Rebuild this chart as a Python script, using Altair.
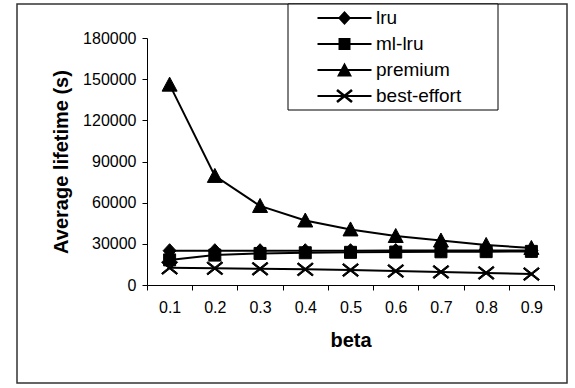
import math
import altair as alt
import pandas as pd

# ---- data ----
beta = ["0.1", "0.2", "0.3", "0.4", "0.5", "0.6", "0.7", "0.8", "0.9"]
series = ["lru", "ml-lru", "premium", "best-effort"]
lru = [25000, 25000, 25000, 25000, 25000, 25100, 25100, 25100, 25200]
ml_lru = [18300, 21800, 23000, 23500, 23800, 24000, 24200, 24300, 24500]
premium = [146000, 79500, 57600, 47000, 40500, 35700, 32400, 29200, 27000]
best_effort = [12500, 12200, 11800, 11400, 10900, 10200, 9500, 8800, 8000]
y_ticks = [0, 30000, 60000, 90000, 120000, 150000, 180000]

values = {"lru": lru, "ml-lru": ml_lru, "premium": premium, "best-effort": best_effort}
df = pd.DataFrame(
    [{"beta": b, "series": s, "value": v} for s in series for b, v in zip(beta, values[s])]
)

FONT = "Liberation Sans"


# ---- marker shapes (pixel units), all as filled polygons ----
def quad(a, b, t):
    dx, dy = b[0] - a[0], b[1] - a[1]
    ln = math.hypot(dx, dy)
    nx, ny = -dy / ln * t / 2, dx / ln * t / 2
    return [(a[0] + nx, a[1] + ny), (b[0] + nx, b[1] + ny), (b[0] - nx, b[1] - ny), (a[0] - nx, a[1] - ny)]


def cross(t):
    return [quad((-7.5, -6), (7.5, 6), t), quad((-7.5, 6), (7.5, -6), t)]


def marker(s, t):
    if s == "lru":
        return [[(0, -7), (6.5, 0), (0, 7), (-6.5, 0)]]
    if s == "ml-lru":
        return [[(-6, -6), (6, -6), (6, 6), (-6, 6)]]
    if s == "premium":
        return [[(0, -7.5), (7.5, 6.5), (-7.5, 6.5)]]
    return cross(t)


def orient(poly):
    area = sum(poly[i][0] * poly[(i + 1) % len(poly)][1] - poly[(i + 1) % len(poly)][0] * poly[i][1]
               for i in range(len(poly)))
    return poly if area > 0 else list(reversed(poly))


def to_path(polys, unit):
    out = ""
    for poly in polys:
        poly = orient(poly)
        out += "M" + "L".join(f"{x / unit:.4f},{y / unit:.4f}" for x, y in poly) + "Z"
    return out


R_MARK = 7.0  # size 196
R_LEG = 55.5  # size 111^2
LINE_HALF = 27.0
legend_line = [(-LINE_HALF, -1), (LINE_HALF, -1), (LINE_HALF, 1), (-LINE_HALF, 1)]
chart_paths = [to_path(marker(s, 1.6), R_MARK) for s in series]
legend_paths = [to_path([legend_line] + marker(s, 2.6), R_LEG) for s in series]

x_enc = alt.X(
    "beta:O",
    scale=alt.Scale(type="band", domain=beta, paddingInner=0, paddingOuter=0),
    axis=alt.Axis(
        title="beta",
        tickBand="extent",
        labelAngle=0,
        labelFontSize=16,
        labelPadding=9,
        tickSize=5,
        titleFontSize=20,
        titleFontWeight="bold",
        titlePadding=15,
        grid=False,
    ),
)
y_enc = alt.Y(
    "value:Q",
    scale=alt.Scale(domain=[0, 180000], nice=False),
    axis=alt.Axis(
        title="Average lifetime (s)",
        values=y_ticks,
        format="d",
        labelFontSize=16,
        labelPadding=6,
        tickSize=5,
        titleFontSize=20,
        titleFontWeight="bold",
        titlePadding=11,
        grid=False,
    ),
)

one = pd.DataFrame({"k": [0]})
frame = alt.Chart(one).mark_rect(fill="transparent", stroke="#333333", strokeWidth=1.5).encode(
    x=alt.value(-130), x2=alt.value(420), y=alt.value(-34), y2=alt.value(345)
)
legend_box = alt.Chart(one).mark_rect(fill="white", stroke="black", strokeWidth=1).encode(
    x=alt.value(141), x2=alt.value(351), y=alt.value(-34), y2=alt.value(72)
)

lines = alt.Chart(df).mark_line(color="black", strokeWidth=2).encode(
    x=x_enc, y=y_enc, detail="series:N"
)
points = alt.Chart(df).mark_point(
    filled=True, color="black", opacity=1, size=196, stroke="black", strokeWidth=1
).encode(
    x=x_enc,
    y=y_enc,
    shape=alt.Shape("series:N", scale=alt.Scale(domain=series, range=chart_paths), legend=None),
)

# legend-only layer (no rows drawn): symbols are line + marker
legend_layer = (
    alt.Chart(df)
    .transform_filter("false")
    .mark_point(filled=True, color="black", opacity=1, size=12321)
    .encode(
        x=x_enc,
        y=y_enc,
        shape=alt.Shape(
            "series:N",
            scale=alt.Scale(domain=series, range=legend_paths),
            legend=alt.Legend(
                title=None,
                orient="none",
                legendX=141,
                legendY=-33,
                direction="vertical",
                padding=0,
                symbolSize=12321,
                symbolFillColor="black",
                symbolOpacity=1,
                clipHeight=26,
                rowPadding=0,
                labelOffset={"expr": "-25"},
                labelFontSize=19,
                labelFont=FONT,
                labelColor="black",
            ),
        ),
    )
)

chart = (
    alt.layer(frame, legend_box, lines, points, legend_layer)
    .resolve_scale(shape="independent")
    .properties(
        width=407,
        height=247,
        autosize=alt.AutoSizeParams(type="none"),
        padding={"left": 147, "top": 38, "right": 21, "bottom": 103},
        background="white",
    )
    .configure(font=FONT)
    .configure_view(strokeWidth=0)
    .configure_axis(
        domainColor="black",
        tickColor="black",
        labelColor="black",
        titleColor="black",
        labelFont=FONT,
        titleFont=FONT,
    )
)

chart.save("out.html", embed_options={"renderer": "svg", "actions": False})
